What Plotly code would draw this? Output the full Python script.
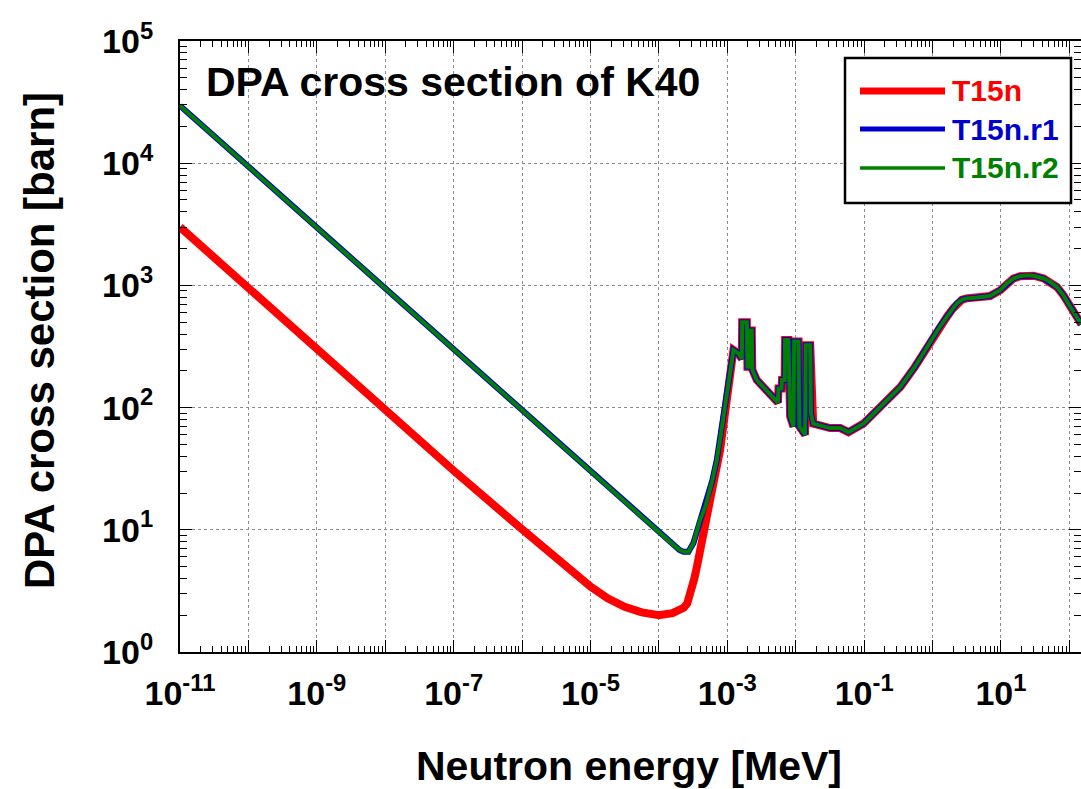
import plotly.graph_objects as go

# ---------------- data ----------------
# T15n, thermal / epithermal part (MeV, barn)
E_low_t15n = [1e-11, 1e-10, 1e-9, 1e-8, 1e-7, 1e-6, 3.16e-6, 5.62e-6, 1e-5, 1.78e-5,
              3.16e-5, 5.62e-5, 1e-4, 1.58e-4, 2.0e-4, 2.3e-4, 2.6e-4, 2.9e-4,
              3.3e-4, 3.6e-4, 4.3e-4, 5.6e-4, 7.85e-4, 1.0e-3]
xs_low_t15n = [3000, 950, 300, 95, 30.5, 10.1, 5.75, 4.42, 3.43, 2.75,
               2.34, 2.11, 2.0, 2.08, 2.2, 2.3, 2.5, 3.0,
               4.0, 5.0, 9.0, 17.5, 45, 115]

# T15n.r1 thermal / epithermal part
E_low_r1 = [1e-11, 1e-10, 1e-9, 1e-8, 1e-7, 1e-6, 1e-5, 3e-5, 1e-4, 1.6e-4,
            2.0e-4, 2.3e-4, 2.7e-4, 3.2e-4, 4.0e-4, 4.8e-4, 6.0e-4, 7.0e-4,
            7.85e-4, 1.0e-3]
xs_low_r1 = [29500, 9350, 2950, 935, 296, 93.5, 29.6, 17.1, 9.5, 7.6,
             6.85, 6.6, 6.6, 7.8, 12, 15.5, 25, 37,
             55, 130]

# T15n.r2 thermal / epithermal part
E_low_r2 = [1e-11, 1e-10, 1e-9, 1e-8, 1e-7, 1e-6, 1e-5, 3e-5, 1e-4, 1.6e-4,
            2.0e-4, 2.3e-4, 2.7e-4, 3.2e-4, 4.0e-4, 4.8e-4, 6.0e-4, 7.0e-4,
            7.85e-4, 1.0e-3]
xs_low_r2 = [29500, 9350, 2950, 935, 296, 93.5, 29.6, 17.1, 9.5, 7.6,
             6.85, 6.6, 6.6, 7.8, 12, 15.5, 25, 37,
             55, 130]

# resonance and fast region (common to the three libraries)
E_res = [1.23e-3, 1.45e-3, 1.63e-3, 1.65e-3, 1.93e-3, 1.97e-3, 2.06e-3, 2.10e-3,
         2.28e-3, 2.32e-3, 2.7e-3, 5.5e-3, 5.6e-3, 6.2e-3, 6.3e-3, 6.9e-3,
         7.0e-3, 7.82e-3, 8.28e-3, 9.25e-3, 9.5e-3, 1.10e-2, 1.13e-2, 1.37e-2,
         1.40e-2, 1.63e-2, 1.65e-2, 1.67e-2, 1.80e-2, 3.18e-2, 4.47e-2, 5.9e-2,
         9.8e-2, 0.19, 0.34, 0.55, 0.92, 1.25, 1.62, 2.0,
         2.27, 2.7, 3.16, 4.5, 6.9, 9.8, 12.0, 15.2,
         19, 24, 30, 42, 52, 66, 82, 103,
         125, 150]
xs_res = [296, 278, 251, 500, 500, 216, 216, 427,
          427, 204, 168, 110, 143, 143, 168, 168,
          357, 357, 85, 70, 348, 348, 70, 60,
          324, 324, 237, 90, 74, 68, 68, 63,
          74, 107, 148, 215, 347, 450, 553, 650,
          713, 765, 783, 795, 818, 915, 1030, 1137,
          1190, 1210, 1200, 1140, 1070, 970, 830, 668,
          560, 480]

series_names = ["T15n", "T15n.r1", "T15n.r2"]
series_colors = ["#ff0000", "#0000cd", "#007f00"]

x_exponents = list(range(-11, 3))
y_exponents = list(range(0, 6))

# ---------------- figure ----------------
E_t15n = E_low_t15n + E_res
xs_t15n = xs_low_t15n + xs_res
E_r1 = E_low_r1 + E_res
xs_r1 = xs_low_r1 + xs_res
E_r2 = E_low_r2 + E_res
xs_r2 = xs_low_r2 + xs_res

widths = [8, 6, 4]
fig = go.Figure()
for name, col, w, ex, ey in zip(series_names, series_colors, widths,
                                [E_t15n, E_r1, E_r2], [xs_t15n, xs_r1, xs_r2]):
    fig.add_trace(go.Scatter(x=ex, y=ey, mode="lines", name=name,
                             line=dict(color=col, width=w, shape="linear"),
                             showlegend=False))

FAM = "Liberation Sans, Arial, sans-serif"
tick_font = dict(family=FAM, size=34, color="black", weight="bold")
title_font = dict(family=FAM, size=41, color="black", weight="bold")

x_tickvals = [10.0 ** k for k in x_exponents]
x_ticktext = [("10<sup>%d</sup>" % k) if k % 2 != 0 else "" for k in x_exponents]
x_minor = [m * 10.0 ** k for k in x_exponents for m in range(2, 10)]
y_tickvals = [10.0 ** k for k in y_exponents]
y_ticktext = ["10<sup>%d</sup>" % k for k in y_exponents]
y_minor = [m * 10.0 ** k for k in y_exponents[:-1] for m in range(2, 10)]

common_axis = dict(showline=True, linecolor="black", linewidth=2, mirror="allticks",
                   ticks="inside", ticklen=12, tickwidth=1, tickcolor="black",
                   showgrid=True, gridcolor="#8c8c8c", griddash="dot", gridwidth=1,
                   zeroline=False, tickfont=tick_font)

fig.update_xaxes(type="log", range=[-11, 2.17], tickvals=x_tickvals, ticktext=x_ticktext,
                 minor=dict(tickvals=x_minor, ticks="inside", ticklen=6,
                            tickcolor="black", tickwidth=1, showgrid=False),
                 ticklabelstandoff=10, **common_axis)
fig.update_yaxes(type="log", range=[0, 5], tickvals=y_tickvals, ticktext=y_ticktext,
                 minor=dict(tickvals=y_minor, ticks="inside", ticklen=7,
                            tickcolor="black", tickwidth=1, showgrid=False),
                 ticklabelstandoff=18, **common_axis)

W, H = 1081, 789
L, R, T, B = 180, 0, 41, 137
pw, ph = W - L - R, H - T - B


def px(xp):
    return (xp - L) / pw


def py(yp):
    return (H - B - yp) / ph


annotations = [
    dict(text="DPA cross section of K40", x=px(204), y=py(82), xref="paper", yref="paper",
         xanchor="left", yanchor="middle", showarrow=False, font=title_font),
    dict(text="Neutron energy [MeV]", x=px(629), y=py(766), xref="paper", yref="paper",
         xanchor="center", yanchor="middle", showarrow=False, font=title_font),
    dict(text="DPA cross section [barn]", x=px(39), y=py(341), xref="paper", yref="paper",
         xanchor="center", yanchor="middle", showarrow=False, textangle=-90,
         font=dict(family=FAM, size=42, color="black", weight="bold")),
]

shapes = [dict(type="rect", xref="paper", yref="paper", x0=px(845), x1=px(1071),
               y0=py(203), y1=py(58), line=dict(color="black", width=2.5),
               fillcolor="white", layer="above")]
leg_y = [91, 129, 168]
leg_w = [7, 5, 3.5]
for name, col, yy, lw in zip(series_names, series_colors, leg_y, leg_w):
    shapes.append(dict(type="line", xref="paper", yref="paper", x0=px(860), x1=px(945),
                       y0=py(yy), y1=py(yy), line=dict(color=col, width=lw),
                       layer="above"))
    annotations.append(dict(text=name, x=px(950), y=py(yy), xref="paper", yref="paper",
                            xanchor="left", yanchor="middle", showarrow=False,
                            font=dict(family=FAM, size=30, color=col, weight="bold")))

fig.update_layout(width=W, height=H, margin=dict(l=L, r=R, t=T, b=B, autoexpand=False),
                  paper_bgcolor="white", plot_bgcolor="white",
                  annotations=annotations, shapes=shapes, showlegend=False)

fig.write_html("out.html", config={"displayModeBar": False},
               post_script="document.body.style.margin='0';"
                           "document.body.style.overflow='hidden';")
